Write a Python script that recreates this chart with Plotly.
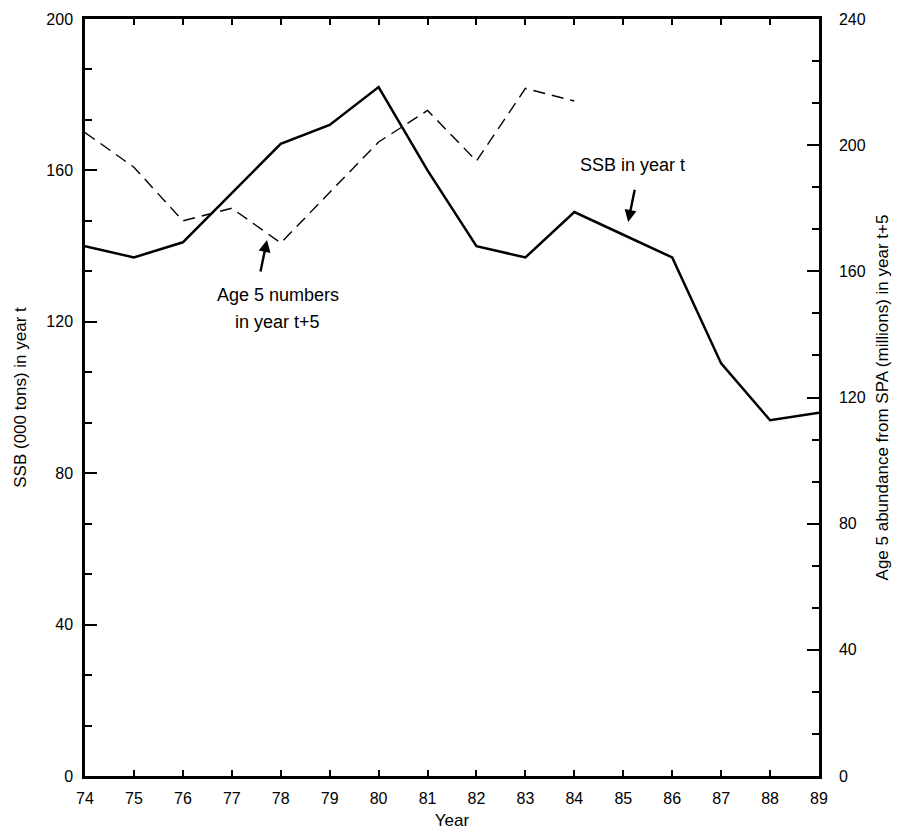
import plotly.graph_objects as go

years = [74, 75, 76, 77, 78, 79, 80, 81, 82, 83, 84, 85, 86, 87, 88, 89]
ssb = [140, 137, 141, 154, 167, 172, 182, 160, 140, 137, 149, 143, 137, 109, 94, 96]
age5_years = [74, 75, 76, 77, 78, 79, 80, 81, 82, 83, 84]
age5 = [204, 193, 176, 180, 169, 185, 201, 211, 195, 218, 214]

left_ticks = [0, 40, 80, 120, 160, 200]
right_ticks = [0, 40, 80, 120, 160, 200, 240]

font = "Liberation Sans, Arial, Helvetica, sans-serif"

fig = go.Figure()
fig.add_trace(go.Scatter(x=years, y=ssb, mode="lines",
                         line=dict(color="black", width=2.5), showlegend=False))
fig.add_trace(go.Scatter(x=age5_years, y=age5, mode="lines", yaxis="y2",
                         line=dict(color="black", width=1.4, dash="12px,7px"),
                         showlegend=False))

fig.add_annotation(x=85.18, y=161.4, xref="x", yref="y", text="SSB in year t",
                   showarrow=False, font=dict(size=18, color="black", family=font))
fig.add_annotation(x=85.10, y=146.4, ax=85.24, ay=155.3, xref="x", yref="y", axref="x", ayref="y",
                   text="", showarrow=True, arrowhead=2, arrowsize=1, arrowwidth=2.4, arrowcolor="black")
fig.add_annotation(x=77.94, y=127.2, xref="x", yref="y", text="Age 5 numbers",
                   showarrow=False, font=dict(size=18, color="black", family=font))
fig.add_annotation(x=77.94, y=119.9, xref="x", yref="y", text="in year t+5",
                   showarrow=False, font=dict(size=18, color="black", family=font))
fig.add_annotation(x=77.72, y=141.6, ax=77.58, ay=132.9, xref="x", yref="y", axref="x", ayref="y",
                   text="", showarrow=True, arrowhead=2, arrowsize=1, arrowwidth=2.4, arrowcolor="black")

fig.update_layout(
    width=901, height=833,
    margin=dict(l=85, r=82, t=19, b=57),
    plot_bgcolor="white", paper_bgcolor="white",
    font=dict(family=font, size=16, color="black"),
    xaxis=dict(range=[74, 89], tickvals=years, ticktext=[str(y) for y in years],
               ticks="inside", ticklen=6, tickwidth=1.5, tickcolor="black",
               ticklabelstandoff=6, automargin=False,
               showline=True, linecolor="black", linewidth=2.5, mirror="ticks",
               showgrid=False, zeroline=False,
               title=dict(text="Year", font=dict(size=17), standoff=9)),
    yaxis=dict(range=[0, 200], tickvals=left_ticks, ticks="inside", ticklen=12, tickwidth=2,
               tickcolor="black", showline=True, linecolor="black", linewidth=2.5,
               ticklabelstandoff=6, automargin=False,
               mirror=True, showgrid=False, zeroline=False,
               minor=dict(dtick=40/3, ticks="inside", ticklen=7, tickwidth=1.5, tickcolor="black"),
               title=dict(text="SSB (000 tons) in year t", font=dict(size=17), standoff=16)),
    yaxis2=dict(range=[0, 240], tickvals=right_ticks, overlaying="y", side="right",
                ticks="inside", ticklen=12, tickwidth=2, tickcolor="black",
                ticklabelstandoff=14, automargin=False,
                showline=True, linecolor="black", linewidth=2.5,
                showgrid=False, zeroline=False,
                minor=dict(dtick=40/3, ticks="inside", ticklen=7, tickwidth=1.5, tickcolor="black"),
                title=dict(text="Age 5 abundance from SPA (millions) in year t+5",
                           font=dict(size=17), standoff=12)),
)

fig.write_html("out.html")
